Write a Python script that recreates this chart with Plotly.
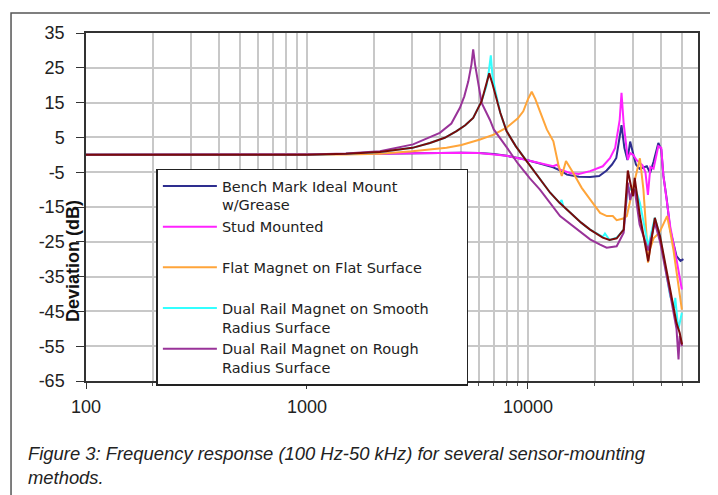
import numpy as np
import plotly.graph_objects as go

# ---------------- data ----------------
f_bench = [100, 300, 1000, 1500, 2000, 3000, 4000, 5000, 6000, 7000, 8000, 9500, 11300, 13000,
           14000, 15000, 17000, 19100, 21000, 22700, 24000, 25100, 26500, 27300, 28200, 29000,
           30000, 30800, 32000, 34500, 35700, 37000, 38900, 40100, 41000, 42500, 44000, 47000,
           49000, 50500]
db_bench = [0, 0, 0, 0.2, 0.3, 0.5, 0.6, 0.6, 0.5, 0.2, -0.3, -1.2, -2.5, -3.6,
            -4.5, -5.7, -6.3, -6.4, -6.1, -4.5, -2.8, -0.9, 8.5, 2.0, -1.5, 3.8,
            0.0, -2.8, -4.0, -3.3, -5.2, -2.0, 3.4, 1.5, -6.0, -13.0, -21.5, -29.1,
            -30.5, -30.0]

f_stud = [100, 300, 1000, 1500, 2000, 3000, 4000, 5000, 6000, 6700, 8000, 9500, 11300, 13000,
          13600, 13900, 15500, 17000, 19100, 21800, 23500, 24800, 26000, 26500, 27100, 27700,
          28300, 29000, 29900, 31000, 33000, 34000, 34900, 35800, 37000, 38900, 40100, 41000,
          44000, 47000, 49700]
db_stud = [0, 0, 0, 0.2, 0.3, 0.5, 0.6, 0.6, 0.5, 0.2, -0.3, -1.3, -2.3, -3.3,
           -2.8, -4.2, -5.2, -5.5, -4.7, -3.3, -1.0, 2.0, 10.0, 17.8, 9.0, 3.9,
           -1.4, 0.5, 0.0, -1.5, -3.0, -5.0, -11.5, -3.5, -4.0, 2.5, 2.0, -6.0,
           -20.5, -30.1, -38.7]

f_flat = [100, 300, 1000, 1500, 2138, 3000, 4280, 5000, 6070, 7000, 8000, 9000, 9520, 10000,
          10400, 10800, 11330, 12170, 13030, 13720, 14220, 14860, 16030, 17500, 19100, 21200,
          22750, 24200, 25200, 26100, 27000, 28000, 29400, 30500, 32100, 33300, 34300, 34900,
          35700, 37000, 39300, 41000, 42600, 44000, 45500, 49700]
db_flat = [0, 0, 0, 0.1, 0.3, 1.0, 2.0, 2.8, 4.4, 5.8, 7.8, 10.5, 12.5, 16.0,
           18.1, 16.0, 12.5, 7.3, 3.9, -2.8, -6.1, -1.8, -5.2, -9.5, -12.8, -16.7,
           -17.6, -17.6, -18.8, -18.6, -18.3, -17.6, -12.0, -7.0, -1.0, -10.0, -22.0, -31.0,
           -27.0, -24.0, -22.4, -20.0, -17.6, -22.0, -27.2, -44.5]

f_smooth = [100, 300, 1000, 1500, 2138, 3000, 3600, 4200, 4750, 5200, 5650, 6170, 6500, 6650,
            6790, 6900, 7120, 7500, 8000, 8800, 9860, 11330, 12600, 13900, 14200, 14460, 17400,
            19100, 21800, 22300, 23400, 25200, 27100, 28300, 29000, 30700, 32100, 35000, 37500,
            39600, 44000, 46000, 46400, 47900, 49700]
db_smooth = [0, 0, 0, 0.3, 0.8, 2.0, 3.4, 4.9, 6.8, 8.5, 10.6, 15.4, 20.0, 24.0,
             28.6, 23.0, 18.3, 12.0, 6.8, 2.5, -1.8, -7.1, -10.9, -13.8, -13.0, -14.8, -19.5,
             -21.5, -23.6, -22.6, -24.5, -23.8, -21.5, -9.0, -10.0, -10.0, -13.8, -26.3, -18.1,
             -23.4, -40.6, -44.0, -41.1, -50.2, -45.4]

f_rough = [100, 300, 1000, 1500, 2138, 3020, 3990, 4500, 4920, 5150, 5370, 5550, 5650, 5760,
           5860, 6170, 6730, 7000, 8000, 9000, 10200, 11330, 13970, 16030, 19100, 21200, 22700,
           25200, 27100, 28300, 29000, 29500, 30400, 32000, 35000, 37500, 39600, 44000, 47000,
           48000, 48600, 49800]
db_rough = [0, 0, 0.1, 0.4, 1.0, 3.0, 6.3, 9.0, 13.5, 16.8, 21.1, 26.0, 30.3, 26.0,
            23.1, 14.9, 10.0, 7.3, 2.2, -2.5, -6.8, -10.0, -17.6, -20.5, -24.3, -25.8, -26.7,
            -26.3, -22.4, -8.0, -13.0, -11.0, -10.0, -20.0, -27.5, -19.5, -25.0, -40.0, -50.0,
            -58.8, -52.0, -55.0]

# extra (unlabelled) dark-red series visible in the reference
f_extra = [100, 300, 1000, 1500, 2138, 3000, 3600, 4200, 4750, 5200, 5650, 6170, 6500, 6680,
           6900, 7120, 7500, 8000, 8800, 9860, 11330, 12600, 13900, 14460, 17400, 19100, 21800,
           23400, 25200, 27100, 28300, 29900, 30400, 32100, 35000, 37500, 39600, 44000, 47000,
           48600, 49800]
db_extra = [0, 0, 0, 0.3, 0.8, 2.0, 3.4, 4.9, 6.8, 8.5, 10.6, 15.4, 20.5, 23.4,
            20.5, 17.0, 12.0, 6.8, 2.5, -1.8, -7.1, -10.9, -13.8, -14.8, -19.5, -21.5, -23.8,
            -24.5, -24.0, -21.5, -4.5, -11.9, -6.6, -17.6, -30.6, -18.1, -23.4, -38.7, -48.3,
            -51.2, -54.5]

PAD = "\u00a0" * 7  # widens the legend box like the reference
series_names = [
    "Bench Mark Ideal Mount<br>w/Grease",
    "Stud Mounted<br>\u00a0",
    "Flat Magnet on Flat Surface<br>\u00a0",
    "Dual Rail Magnet on Smooth" + PAD + "<br>Radius Surface",
    "Dual Rail Magnet on Rough<br>Radius Surface",
]
x_tick_vals = [100, 1000, 10000]
x_tick_text = ["100", "1000", "10000"]
y_tick_vals = [35, 25, 15, 5, -5, -15, -25, -35, -45, -55, -65]
y_tick_text = ["35", "25", "15", "5", "-5", "-15", "-25", "-35", "-45", "-55", "-65"]

colors = ["#2e2e8f", "#ff22ff", "#ffa53a", "#33ffff", "#993399", "#7a0a0a"]

fig = go.Figure()
data = [(f_bench, db_bench), (f_stud, db_stud), (f_flat, db_flat),
        (f_smooth, db_smooth), (f_rough, db_rough)]
for (fx, fy), name, c in zip(data, series_names, colors):
    fig.add_trace(go.Scatter(x=fx, y=fy, mode="lines", name=name,
                             line=dict(color=c, width=2)))
fig.add_trace(go.Scatter(x=f_extra, y=db_extra, mode="lines", name="extra",
                         showlegend=False, line=dict(color=colors[5], width=2)))

minor_vals = [m * 10 ** e for e in (2, 3, 4) for m in range(2, 10)]

# the page body has an 8px margin, so the figure is laid out 8px up/left
fig.update_layout(
    width=718, height=495,
    margin=dict(l=78, r=28, t=25, b=122),
    paper_bgcolor="white", plot_bgcolor="white",
    font=dict(family="Liberation Sans, Arial, sans-serif", color="#222"),
    showlegend=True,
    legend=dict(
        x=0.115, y=0.6105, xanchor="left", yanchor="top",
        bgcolor="white", bordercolor="#222", borderwidth=1.5,
        font=dict(family="DejaVu Sans, sans-serif", size=14.5, color="#222"),
        valign="top", itemwidth=54, tracegroupgap=0,
    ),
)
fig.update_xaxes(
    type="log", range=[2, np.log10(58800)],
    tickvals=x_tick_vals, ticktext=x_tick_text,
    tickfont=dict(size=18), ticks="outside", ticklen=6, tickcolor="#333",
    ticklabelstandoff=3,
    showgrid=True, gridcolor="#c8c8c8", gridwidth=1.5,
    minor=dict(tickvals=minor_vals, showgrid=True, gridcolor="#c8c8c8", gridwidth=1.5,
               ticks="outside", ticklen=3, tickcolor="#555"),
    showline=True, linecolor="#333", linewidth=1.5, mirror=True, zeroline=False,
)
fig.update_yaxes(
    range=[-65, 35], tickvals=y_tick_vals, ticktext=y_tick_text,
    tickfont=dict(size=18), ticks="outside", ticklen=8, tickcolor="#333",
    ticklabelstandoff=8,
    showgrid=True, gridcolor="#c8c8c8", gridwidth=1.5,
    showline=True, linecolor="#333", linewidth=1.5, mirror=True, zeroline=False,
)

# y-axis title placed as in the reference (over the tick marks)
fig.add_annotation(text="<b>Deviation (dB)</b>", xref="paper", yref="paper",
                   x=-0.021, y=0.345, textangle=-90, showarrow=False,
                   font=dict(size=18, color="#111"), xanchor="center", yanchor="middle")

# caption
fig.add_annotation(text="<i>Figure 3: Frequency response (100 Hz-50 kHz) for several sensor-mounting</i>",
                   xref="paper", yref="paper", x=-0.098, y=-0.207, xanchor="left",
                   yanchor="middle", showarrow=False, font=dict(size=18.4, color="#222"))
fig.add_annotation(text="<i>methods.</i>",
                   xref="paper", yref="paper", x=-0.098, y=-0.276, xanchor="left",
                   yanchor="middle", showarrow=False, font=dict(size=18.4, color="#222"))

# outer frame of the figure box
fig.add_shape(type="rect", xref="paper", yref="paper",
              x0=-0.1225, x1=1.0278, y0=-0.6, y1=1.0575,
              line=dict(color="#555", width=1.5), fillcolor="rgba(0,0,0,0)", layer="below")

fig.write_html("out.html")
